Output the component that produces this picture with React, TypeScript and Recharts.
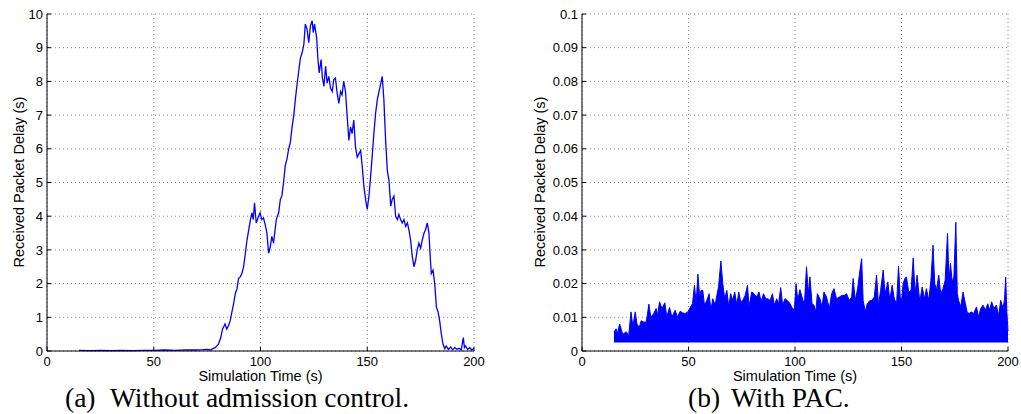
import { LineChart, Line, AreaChart, Area, XAxis, YAxis, CartesianGrid } from 'recharts';

// (a) Without admission control: received packet delay (s) vs simulation time (s)
const noAcTime = [
  15, 20, 25, 30, 35, 40, 45, 50, 55, 60,
  65, 70, 73, 75, 76.5, 78, 78.8, 80.3, 81.4, 82.2,
  83.4, 84.2, 85, 85.8, 86.6, 87.4, 88.2, 89, 89.7, 90.5,
  91.3, 92.1, 92.9, 93.7, 94.5, 95.3, 96, 96.6, 97.2, 98,
  99.1, 99.8, 100.6, 101.4, 102.2, 103, 103.8, 104.6, 105.3, 106.1,
  107.4, 108.5, 109.3, 110, 110.8, 111.6, 112.4, 113.2, 114, 114.8,
  115.6, 116.3, 117.1, 117.9, 118.7, 119.5, 120.3, 121, 121.8, 122.6,
  123.4, 124.2, 124.7, 125.3, 126.3, 126.9, 127.5, 128.4, 129, 129.7,
  130.5, 131.2, 132, 132.8, 133.6, 134.3, 135.1, 135.9, 136.7, 137.5,
  138.2, 139, 139.8, 140.6, 141.4, 142.2, 142.9, 143.7, 144.5, 145.3,
  146.1, 146.9, 147.7, 148.4, 149.2, 150, 150.8, 151.6, 152.4, 153.1,
  153.9, 154.7, 155.5, 156.2, 157, 157.8, 158.6, 159.4, 160.2, 161,
  161.7, 162.5, 163.3, 164.1, 164.8, 165.6, 166.4, 167.2, 168, 168.8,
  169.5, 170.3, 171.1, 171.9, 172.7, 173.4, 174.2, 175, 175.8, 176.6,
  177.3, 178.1, 178.9, 179.4, 180, 180.8, 181.6, 182.4, 183.2, 183.9,
  184.7, 185.5, 186.3, 187, 188, 189, 190, 191, 192, 193,
  194, 195, 195.5, 196, 197, 198, 199, 200,
];
const noAcDelay = [
  0.02, 0.01, 0.02, 0.01, 0.02, 0.01, 0.02, 0.02, 0.03, 0.02,
  0.03, 0.03, 0.04, 0.05, 0.03, 0.08, 0.1, 0.2, 0.4, 0.65,
  0.8, 0.65, 0.75, 0.9, 1.15, 1.4, 1.7, 1.85, 2.15, 2.2,
  2.3, 2.5, 2.9, 3.3, 3.6, 3.9, 4.1, 3.9, 4.4, 3.8,
  4.0, 4.1, 3.9, 3.95, 3.75, 3.5, 2.9, 3.1, 3.4, 3.2,
  3.9, 4.1, 4.5, 4.6, 5.0, 5.5, 5.7, 6.0, 6.2, 6.65,
  7.0, 7.45, 7.9, 8.3, 8.7, 8.85, 9.1, 9.7, 9.55, 9.15,
  9.65, 9.8, 9.45, 9.7, 9.3, 8.65, 8.25, 8.65, 8.1, 7.85,
  8.45, 7.95, 8.15, 7.8, 7.7, 8.05, 8.1, 7.65, 7.35, 7.7,
  7.6, 8.0, 7.7, 6.95, 6.25, 6.65, 6.45, 6.85, 6.05, 5.75,
  5.85, 5.95, 5.45, 4.9, 4.5, 4.2, 4.6, 5.2, 5.85, 6.45,
  7.05, 7.45, 7.7, 7.9, 8.15, 7.45, 6.25, 5.35, 5.05, 4.3,
  4.5, 4.6, 4.0, 3.9, 4.05, 3.9, 3.8, 3.9, 3.7, 3.8,
  3.6, 3.3, 2.8, 2.5, 2.7, 3.0, 3.2, 3.05, 3.3, 3.5,
  3.6, 3.8, 3.5, 2.9, 2.3, 2.4, 2.0, 1.3, 1.15, 0.9,
  0.5, 0.2, 0.07, 0.15, 0.05, 0.12, 0.04, 0.1, 0.05, 0.08,
  0.03, 0.4, 0.1, 0.15, 0.05, 0.1, 0.03, 0.08,
];

// (b) With PAC: upper envelope of the delay trace, filled down to its floor
const pacTime = [
  15, 16, 16.5, 17.7, 18.8, 19.5, 20.3, 21, 21.9, 23,
  23.9, 25, 25.8, 26.9, 27.8, 28.9, 30.2, 31.4, 32.3, 33.6,
  34.8, 35.5, 36.4, 37.5, 38.9, 39.8, 41.1, 42.2, 43.75, 44.8,
  46.1, 47.3, 48.4, 49.7, 50.8, 51.9, 52.8, 53.6, 54.4, 55.2,
  55.9, 56.7, 57.5, 58.6, 59.7, 60.5, 61.4, 62.5, 63.3, 64.1,
  65.2, 66.1, 67, 68, 68.9, 69.8, 70.8, 71.7, 72.7, 73.6,
  74.5, 75.5, 76.6, 77.7, 78.4, 79.7, 80.8, 82, 83.1, 84.1,
  85.2, 86.3, 87.2, 88.3, 89.4, 90.3, 91.4, 92.3, 93.3, 94.2,
  95.3, 96.4, 97.7, 98.8, 99.7, 100.5, 101.3, 102.3, 103.3, 104.4,
  105.4, 106.3, 107, 108, 108.9, 109.8, 110.5, 111.7, 112.7, 113.6,
  114.8, 116.1, 117.2, 118.3, 119.5, 120.8, 122, 123.1, 124.2, 125.5,
  126.6, 127.3, 128.3, 129.4, 130.5, 131.3, 132, 133, 133.9, 135.2,
  136.1, 137.2, 138.3, 139.2, 140.2, 141.4, 142.3, 143.6, 144.5, 145.6,
  146.6, 147.7, 148.6, 149.4, 150, 150.8, 151.6, 152.3, 153.4, 154.5,
  155.5, 156.4, 157.3, 158.6, 159.7, 160.8, 161.7, 162.8, 163.8, 164.8,
  165.6, 166.4, 167.5, 168.4, 169.5, 170.5, 171.6, 172.3, 173, 173.8,
  174.6, 175.5, 176.2, 176.8, 177.8, 178.9, 179.8, 180.8, 181.7, 182.8,
  183.9, 185.2, 186.1, 187.2, 188.3, 189.4, 190.5, 191.4, 192.3, 193.4,
  194.5, 195.6, 196.6, 197.7, 198.4, 198.9, 199.5, 200,
];
const pacPeak = [
  0.0056, 0.0066, 0.005, 0.008, 0.0056, 0.005, 0.0056, 0.0056, 0.0044, 0.0116,
  0.0073, 0.0116, 0.008, 0.007, 0.009, 0.0086, 0.0086, 0.0139, 0.0101, 0.011,
  0.0126, 0.0106, 0.0146, 0.0126, 0.0143, 0.0101, 0.0129, 0.0101, 0.0121, 0.0101,
  0.0118, 0.0113, 0.0111, 0.0116, 0.0129, 0.0141, 0.0195, 0.014, 0.0228, 0.0165,
  0.018, 0.018, 0.0136, 0.015, 0.017, 0.0121, 0.0155, 0.0136, 0.0165, 0.019,
  0.0267, 0.02, 0.0155, 0.018, 0.0131, 0.017, 0.015, 0.0175, 0.0136, 0.0175,
  0.0146, 0.015, 0.0165, 0.0195, 0.0131, 0.0175, 0.017, 0.016, 0.0175, 0.0146,
  0.017, 0.0155, 0.0155, 0.015, 0.017, 0.0136, 0.0155, 0.014, 0.0188, 0.0136,
  0.0155, 0.015, 0.014, 0.0126, 0.0123, 0.02, 0.015, 0.0182, 0.016, 0.0136,
  0.025, 0.017, 0.022, 0.014, 0.0136, 0.0116, 0.017, 0.0155, 0.0131, 0.0175,
  0.016, 0.0126, 0.017, 0.0185, 0.0155, 0.016, 0.0165, 0.0165, 0.017, 0.015,
  0.016, 0.0215, 0.015, 0.0185, 0.024, 0.0274, 0.015, 0.0116, 0.014, 0.015,
  0.015, 0.016, 0.0225, 0.0136, 0.018, 0.024, 0.017, 0.0205, 0.015, 0.0195,
  0.0155, 0.014, 0.0252, 0.016, 0.0146, 0.02, 0.0215, 0.022, 0.0175, 0.018,
  0.0276, 0.017, 0.0225, 0.0146, 0.019, 0.0155, 0.0185, 0.015, 0.021, 0.0314,
  0.02, 0.018, 0.0225, 0.017, 0.0185, 0.021, 0.0349, 0.021, 0.026, 0.0205,
  0.022, 0.0382, 0.017, 0.015, 0.0131, 0.0175, 0.0146, 0.0116, 0.0111, 0.0116,
  0.0111, 0.0131, 0.0101, 0.0126, 0.0136, 0.0121, 0.014, 0.0121, 0.0146, 0.0126,
  0.0136, 0.0106, 0.015, 0.0126, 0.0155, 0.022, 0.0111, 0.006,
];
const PAC_FLOOR = 0.0025;

const timeTicks = [0, 50, 100, 150, 200];
const noAcTicks = [0, 1, 2, 3, 4, 5, 6, 7, 8, 9, 10];
const pacTicks = [0, 0.01, 0.02, 0.03, 0.04, 0.05, 0.06, 0.07, 0.08, 0.09, 0.1];
const pacTickLabels = ['0', '0.01', '0.02', '0.03', '0.04', '0.05', '0.06', '0.07', '0.08', '0.09', '0.1'];

const noAcData = noAcTime.map((t, i) => ({ t, v: noAcDelay[i] }));
const pacData = pacTime.map((t, i) => ({ t, v: pacPeak[i] }));

const SANS = 'Liberation Sans, Arial, Helvetica, sans-serif';
const SERIF = 'Liberation Serif, Times New Roman, serif';
const BLUE = '#0000ff';
const tickStyle = { fill: '#000', fontSize: 13, fontFamily: SANS };

export default function App() {
  return (
    <div style={{ position: 'absolute', left: 0, top: 0, width: 1021, height: 414, background: '#fff' }}>
      <div style={{ position: 'absolute', left: 0, top: 0 }}>
        <LineChart width={500} height={414} data={noAcData} margin={{ top: 14, right: 26, bottom: 0, left: 0 }}>
          <CartesianGrid stroke="#8a8a8a" strokeDasharray="1 3" />
          <XAxis
            dataKey="t"
            type="number"
            domain={[0, 200]}
            ticks={timeTicks}
            height={63}
            stroke="#000"
            tick={tickStyle}
            tickSize={-4}
            tickMargin={10}
            interval={0}
          />
          <YAxis
            type="number"
            domain={[0, 10]}
            ticks={noAcTicks}
            width={47}
            stroke="#000"
            tick={tickStyle}
            tickSize={-4}
            tickMargin={8}
            interval={0}
          />
          <Line type="linear" dataKey="v" stroke={BLUE} strokeWidth={1.3} dot={false} isAnimationActive={false} />
        </LineChart>
      </div>
      <div style={{ position: 'absolute', left: 510, top: 0 }}>
        <AreaChart width={511} height={414} data={pacData} margin={{ top: 14, right: 13, bottom: 0, left: 0 }}>
          <CartesianGrid stroke="#8a8a8a" strokeDasharray="1 3" />
          <XAxis
            dataKey="t"
            type="number"
            domain={[0, 200]}
            ticks={timeTicks}
            height={63}
            stroke="#000"
            tick={tickStyle}
            tickSize={-4}
            tickMargin={10}
            interval={0}
          />
          <YAxis
            type="number"
            domain={[0, 0.1]}
            ticks={pacTicks}
            tickFormatter={(_v: number, i: number) => pacTickLabels[i]}
            width={72}
            stroke="#000"
            tick={tickStyle}
            tickSize={-4}
            tickMargin={8}
            interval={0}
          />
          <Area
            type="linear"
            dataKey="v"
            baseValue={PAC_FLOOR}
            stroke={BLUE}
            strokeWidth={1}
            fill={BLUE}
            fillOpacity={1}
            dot={false}
            isAnimationActive={false}
          />
        </AreaChart>
      </div>
      <svg width={1021} height={414} style={{ position: 'absolute', left: 0, top: 0, pointerEvents: 'none' }}>
        <g fontFamily={SANS} fontSize={14.5} fill="#000">
          <text x={23.5} y={182} textAnchor="middle" transform="rotate(-90 23.5 182)">Received Packet Delay (s)</text>
          <text x={545} y={182} textAnchor="middle" transform="rotate(-90 545 182)">Received Packet Delay (s)</text>
          <text x={260.5} y={381} textAnchor="middle">Simulation Time (s)</text>
          <text x={795} y={381} textAnchor="middle">Simulation Time (s)</text>
        </g>
        <g fontFamily={SERIF} fontSize={27.5} fill="#000">
          <text x={65} y={407}>(a)</text>
          <text x={110} y={407}>Without admission control.</text>
          <text x={688} y={407}>(b)</text>
          <text x={731} y={407}>With PAC.</text>
        </g>
      </svg>
    </div>
  );
}
